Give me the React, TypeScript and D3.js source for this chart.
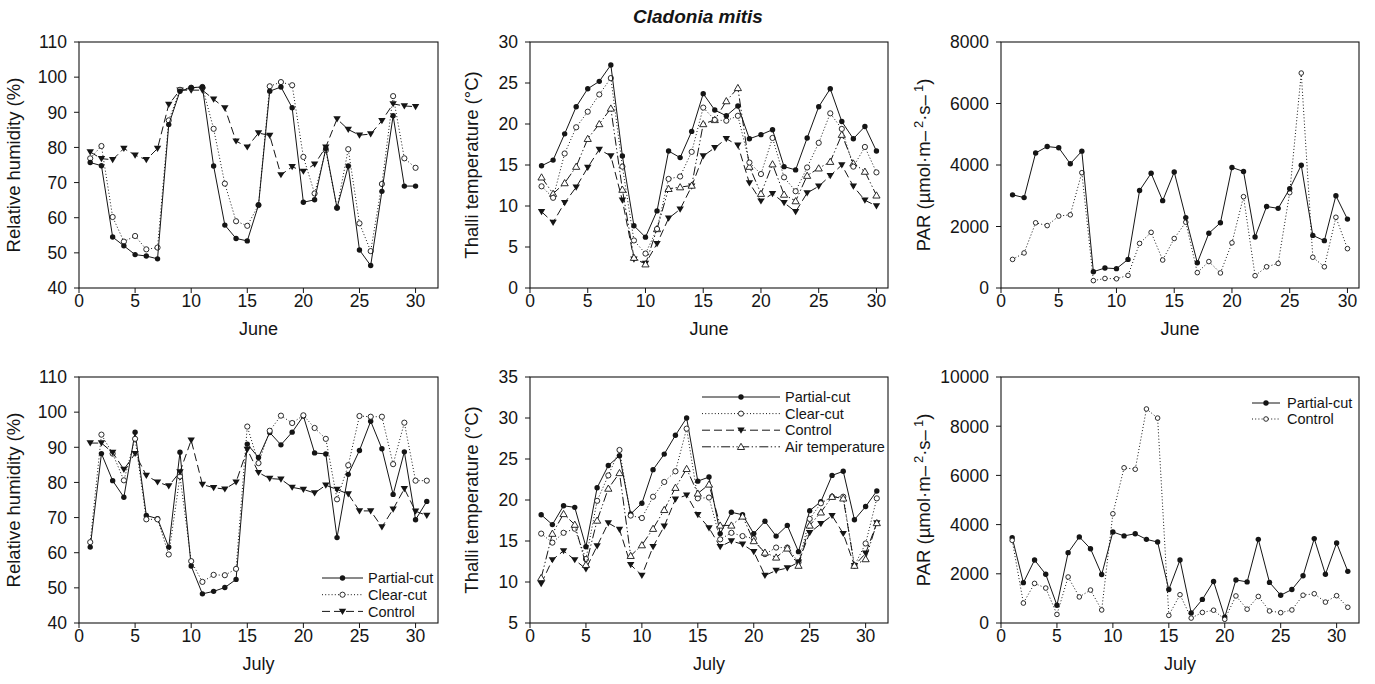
import React from 'react';
import * as d3 from 'd3';

// ---------- data ----------
const juneDays = Array.from({ length: 30 }, (_, i) => i + 1);
const julyDays = Array.from({ length: 31 }, (_, i) => i + 1);

const junRH_partial = [75.7, 74.8, 54.5, 52.0, 49.5, 49.1, 48.3, 86.5, 96.0, 97.0, 97.2, 74.7, 57.9, 54.1, 53.4, 63.6, 96.0, 97.2, 91.3, 64.4, 65.1, 79.7, 62.8, 74.7, 50.8, 46.4, 67.5, 89.0, 69.0, 69.0];
const junRH_clear = [76.9, 80.4, 60.2, 53.2, 54.8, 51.0, 51.5, 87.7, 96.4, 97.0, 97.2, 85.3, 69.7, 59.0, 57.7, 63.6, 97.4, 98.6, 97.7, 77.3, 66.9, 79.2, 62.8, 79.5, 58.4, 50.5, 69.6, 94.6, 76.9, 74.2];
const junRH_control = [78.7, 76.8, 76.5, 79.7, 77.8, 76.5, 79.7, 92.2, 96.3, 96.3, 96.3, 93.7, 91.2, 81.8, 80.1, 84.1, 83.4, 72.2, 74.5, 73.2, 75.2, 80.1, 88.1, 85.1, 83.5, 83.8, 87.6, 92.4, 91.8, 91.6];

const junT_partial = [14.9, 15.6, 18.8, 22.1, 24.3, 25.2, 27.2, 16.1, 7.6, 6.2, 9.4, 16.7, 15.9, 19.1, 23.7, 21.7, 21.0, 22.2, 18.2, 18.7, 19.3, 14.8, 14.4, 18.3, 22.1, 24.3, 20.3, 18.2, 19.7, 16.7];
const junT_clear = [12.4, 11.0, 16.4, 19.6, 21.5, 23.6, 25.6, 14.8, 5.8, 4.2, 7.2, 13.3, 13.6, 16.6, 22.0, 20.5, 20.4, 21.0, 15.3, 13.9, 18.3, 13.5, 11.8, 14.7, 17.7, 21.3, 19.4, 14.8, 17.2, 14.1];
const junT_control = [9.3, 8.0, 10.4, 12.3, 14.7, 16.9, 16.1, 10.7, 3.5, 3.0, 5.4, 8.5, 9.6, 12.4, 16.1, 17.1, 18.2, 17.4, 12.8, 10.6, 11.5, 10.4, 9.3, 11.6, 12.4, 13.7, 15.0, 12.4, 10.7, 10.0];
const junT_air = [13.5, 11.5, 12.8, 14.8, 18.2, 20.0, 21.9, 12.0, 3.7, 2.9, 7.2, 12.1, 12.3, 12.5, 20.0, 20.5, 22.8, 24.4, 14.8, 11.5, 15.1, 11.4, 10.6, 13.7, 14.6, 15.4, 18.7, 15.2, 14.2, 11.3];

const junPAR_partial = [3030, 2940, 4390, 4600, 4560, 4040, 4450, 530, 650, 630, 930, 3170, 3730, 2840, 3770, 2290, 820, 1780, 2120, 3920, 3790, 1660, 2650, 2590, 3230, 3990, 1710, 1540, 3000, 2240];
const junPAR_control = [930, 1140, 2120, 2030, 2340, 2380, 3750, 240, 310, 300, 410, 1450, 1810, 910, 1610, 2140, 500, 860, 490, 1470, 2970, 400, 690, 800, 3100, 6990, 1000, 690, 2300, 1280];

const julRH_partial = [61.6, 88.2, 80.5, 75.8, 94.3, 70.6, 69.7, 61.6, 88.6, 56.2, 48.3, 49.0, 50.1, 52.4, 90.9, 87.1, 94.2, 90.7, 94.3, 98.9, 88.4, 88.1, 64.3, 82.3, 89.1, 97.4, 89.6, 76.6, 88.7, 69.4, 74.6];
const julRH_clear = [63.0, 93.6, 88.2, 80.6, 92.4, 69.5, 69.5, 59.5, 81.7, 57.6, 51.7, 53.7, 53.6, 55.4, 95.9, 85.5, 94.7, 99.0, 96.9, 99.1, 95.5, 92.4, 75.2, 84.9, 98.9, 98.7, 98.7, 85.2, 97.0, 80.5, 80.5];
const julRH_control = [91.2, 91.2, 88.5, 83.7, 88.2, 82.0, 80.1, 79.0, 83.0, 92.0, 79.4, 78.5, 78.1, 80.1, 89.4, 82.8, 81.1, 80.9, 78.6, 78.0, 77.0, 79.2, 78.0, 76.7, 71.9, 71.9, 67.3, 72.4, 78.2, 71.8, 70.6];

const julT_partial = [18.2, 17.0, 19.3, 19.1, 14.3, 21.5, 24.2, 25.4, 18.3, 19.6, 23.7, 25.6, 27.9, 30.0, 22.3, 22.8, 15.9, 18.5, 18.2, 15.9, 17.4, 15.6, 16.9, 13.7, 18.7, 19.8, 23.0, 23.5, 17.6, 19.2, 21.1];
const julT_clear = [15.9, 14.8, 16.0, 16.5, 12.8, 19.9, 23.0, 26.1, 18.1, 17.8, 20.4, 22.2, 23.5, 28.7, 20.2, 20.3, 15.2, 16.0, 15.6, 15.3, 13.4, 14.2, 14.2, 12.4, 17.7, 19.6, 20.4, 20.4, 12.0, 14.7, 20.2];
const julT_control = [9.8, 12.7, 13.8, 12.7, 11.6, 14.4, 17.2, 16.4, 12.1, 10.8, 14.3, 16.8, 20.1, 20.6, 18.2, 16.6, 14.3, 15.0, 14.6, 13.7, 10.8, 11.4, 11.7, 12.4, 16.0, 17.1, 18.1, 15.9, 12.0, 13.5, 17.2];
const julT_air = [10.5, 15.9, 18.3, 17.0, 12.1, 17.5, 21.4, 23.3, 13.2, 14.5, 16.5, 18.8, 21.5, 23.8, 20.8, 21.9, 16.9, 16.9, 18.0, 15.0, 13.6, 13.0, 14.1, 12.0, 16.9, 18.5, 20.4, 20.2, 12.0, 12.8, 17.2];

const julPAR_partial = [3470, 1640, 2560, 1980, 720, 2860, 3500, 3020, 1970, 3700, 3540, 3630, 3400, 3290, 1360, 2560, 410, 960, 1690, 240, 1750, 1670, 3400, 1650, 1130, 1360, 1920, 3430, 1980, 3250, 2100];
const julPAR_control = [3360, 810, 1610, 1420, 350, 1870, 1060, 1340, 530, 4440, 6310, 6250, 8700, 8330, 310, 1150, 200, 430, 520, 150, 1100, 560, 1080, 490, 420, 530, 1130, 1190, 850, 1110, 640];

const rhTicks = [40, 50, 60, 70, 80, 90, 100, 110];
const tJuneTicks = [0, 5, 10, 15, 20, 25, 30];
const tJulyTicks = [5, 10, 15, 20, 25, 30, 35];
const parJuneTicks = [0, 2000, 4000, 6000, 8000];
const parJulyTicks = [0, 2000, 4000, 6000, 8000, 10000];
const dayTicks = [0, 5, 10, 15, 20, 25, 30];

// ---------- styles ----------
const INK = '#151515';
const FONT = '"Liberation Sans", Arial, Helvetica, sans-serif';

type MarkerKind = 'fc' | 'oc' | 'ocs' | 'td' | 'tu';
const STYLE: Record<string, { dash?: string; marker: MarkerKind }> = {
  partial: { marker: 'fc' },
  clear: { dash: '1,2.2', marker: 'oc' },
  control: { dash: '8,4', marker: 'td' },
  air: { dash: '9,2.5,1.3,2.5,1.3,2.5', marker: 'tu' },
  parControl: { dash: '1,2.2', marker: 'ocs' },
};

function Marker({ kind, cx, cy }: { kind: MarkerKind; cx: number; cy: number }) {
  switch (kind) {
    case 'fc':
      return <circle cx={cx} cy={cy} r={2.7} fill={INK} />;
    case 'oc':
      return <circle cx={cx} cy={cy} r={2.6} fill="#fff" stroke={INK} strokeWidth={0.9} />;
    case 'ocs':
      return <circle cx={cx} cy={cy} r={2.3} fill="#fff" stroke={INK} strokeWidth={0.9} />;
    case 'td':
      return <path d={`M${cx - 3.7},${cy - 2.7}L${cx + 3.7},${cy - 2.7}L${cx},${cy + 3.5}Z`} fill={INK} />;
    case 'tu':
      return <path d={`M${cx},${cy - 3.5}L${cx + 3.6},${cy + 2.7}L${cx - 3.6},${cy + 2.7}Z`} fill="#fff" stroke={INK} strokeWidth={0.9} />;
  }
  return null;
}

type Series = { name: string; style: string; days: number[]; values: number[] };
type Legend = { lineX0: number; lineX1: number; textX: number; y0: number; dy: number };
type PanelDef = {
  left: number; right: number; top: number; bottom: number;
  xDomain: [number, number]; yDomain: [number, number]; yTicks: number[];
  yLabel: React.ReactNode; yLabelX: number; xLabel: string;
  series: Series[]; legend?: Legend;
};

function Panel({ p }: { p: PanelDef }) {
  const x = d3.scaleLinear().domain(p.xDomain).range([p.left, p.right]);
  const y = d3.scaleLinear().domain(p.yDomain).range([p.bottom, p.top]);
  const line = d3.line<[number, number]>().x((d) => x(d[0])).y((d) => y(d[1]));
  const cy = (p.top + p.bottom) / 2;
  const cx = (p.left + p.right) / 2;
  return (
    <g>
      {p.series.map((s) => {
        const st = STYLE[s.style];
        const pts = s.days.map((d, i) => [d, s.values[i]] as [number, number]);
        return (
          <g key={s.name + s.style}>
            <path d={line(pts) || ''} fill="none" stroke={INK} strokeWidth={1} strokeDasharray={st.dash} />
            {pts.map((pt, i) => (
              <Marker key={i} kind={st.marker} cx={x(pt[0])} cy={y(pt[1])} />
            ))}
          </g>
        );
      })}
      <rect x={p.left} y={p.top} width={p.right - p.left} height={p.bottom - p.top} fill="none" stroke={INK} strokeWidth={1.1} />
      {p.yTicks.map((t) => (
        <g key={'y' + t}>
          <line x1={p.left - 5} x2={p.left} y1={y(t)} y2={y(t)} stroke={INK} strokeWidth={1} />
          <text x={p.left - 12} y={y(t)} dy="0.36em" textAnchor="end" fontSize={17.5} fill={INK}>{t}</text>
        </g>
      ))}
      {dayTicks.map((t) => (
        <g key={'x' + t}>
          <line x1={x(t)} x2={x(t)} y1={p.bottom} y2={p.bottom + 5} stroke={INK} strokeWidth={1} />
          <text x={x(t)} y={p.bottom + 19} textAnchor="middle" fontSize={17.5} fill={INK}>{t}</text>
        </g>
      ))}
      <text x={cx} y={p.bottom + 47} textAnchor="middle" fontSize={18} fill={INK}>{p.xLabel}</text>
      <text transform={`translate(${p.yLabelX},${cy}) rotate(-90)`} textAnchor="middle" fontSize={18.5} fill={INK}>{p.yLabel}</text>
      {p.legend &&
        p.series.map((s, i) => {
          const lg = p.legend!;
          const st = STYLE[s.style];
          const ly = lg.y0 + i * lg.dy;
          return (
            <g key={'lg' + s.name}>
              <line x1={lg.lineX0} x2={lg.lineX1} y1={ly} y2={ly} stroke={INK} strokeWidth={1} strokeDasharray={st.dash} />
              <Marker kind={st.marker} cx={(lg.lineX0 + lg.lineX1) / 2} cy={ly} />
              <text x={lg.textX} y={ly} dy="0.36em" fontSize={14.5} fill={INK}>{s.name}</text>
            </g>
          );
        })}
    </g>
  );
}

const parLabel = (
  <>
    PAR (µmol·m–<tspan dx={3} dy={-7} fontSize={13}>2</tspan>
    <tspan dy={7}>·s–</tspan>
    <tspan dx={3} dy={-7} fontSize={13}>1</tspan>
    <tspan dy={7}>)</tspan>
  </>
);

const COLS = [
  { left: 79, right: 438 },
  { left: 530, right: 888 },
  { left: 1001, right: 1359 },
];
const ROWS = [
  { top: 42, bottom: 288 },
  { top: 377, bottom: 623 },
];

const panels: PanelDef[] = [
  {
    ...COLS[0], ...ROWS[0], xDomain: [0, 32], yDomain: [40, 110], yTicks: rhTicks,
    yLabel: 'Relative humidity (%)', yLabelX: 20, xLabel: 'June',
    series: [
      { name: 'Control', style: 'control', days: juneDays, values: junRH_control },
      { name: 'Clear-cut', style: 'clear', days: juneDays, values: junRH_clear },
      { name: 'Partial-cut', style: 'partial', days: juneDays, values: junRH_partial },
    ],
  },
  {
    ...COLS[1], ...ROWS[0], xDomain: [0, 31], yDomain: [0, 30], yTicks: tJuneTicks,
    yLabel: 'Thalli temperature (°C)', yLabelX: 478, xLabel: 'June',
    series: [
      { name: 'Control', style: 'control', days: juneDays, values: junT_control },
      { name: 'Air temperature', style: 'air', days: juneDays, values: junT_air },
      { name: 'Clear-cut', style: 'clear', days: juneDays, values: junT_clear },
      { name: 'Partial-cut', style: 'partial', days: juneDays, values: junT_partial },
    ],
  },
  {
    ...COLS[2], ...ROWS[0], xDomain: [0, 31], yDomain: [0, 8000], yTicks: parJuneTicks,
    yLabel: parLabel, yLabelX: 930, xLabel: 'June',
    series: [
      { name: 'Control', style: 'parControl', days: juneDays, values: junPAR_control },
      { name: 'Partial-cut', style: 'partial', days: juneDays, values: junPAR_partial },
    ],
  },
  {
    ...COLS[0], ...ROWS[1], xDomain: [0, 32], yDomain: [40, 110], yTicks: rhTicks,
    yLabel: 'Relative humidity (%)', yLabelX: 20, xLabel: 'July',
    series: [
      { name: 'Partial-cut', style: 'partial', days: julyDays, values: julRH_partial },
      { name: 'Clear-cut', style: 'clear', days: julyDays, values: julRH_clear },
      { name: 'Control', style: 'control', days: julyDays, values: julRH_control },
    ],
    legend: { lineX0: 322, lineX1: 363, textX: 368, y0: 578, dy: 16.7 },
  },
  {
    ...COLS[1], ...ROWS[1], xDomain: [0, 32], yDomain: [5, 35], yTicks: tJulyTicks,
    yLabel: 'Thalli temperature (°C)', yLabelX: 478, xLabel: 'July',
    series: [
      { name: 'Partial-cut', style: 'partial', days: julyDays, values: julT_partial },
      { name: 'Clear-cut', style: 'clear', days: julyDays, values: julT_clear },
      { name: 'Control', style: 'control', days: julyDays, values: julT_control },
      { name: 'Air temperature', style: 'air', days: julyDays, values: julT_air },
    ],
    legend: { lineX0: 702, lineX1: 780, textX: 785, y0: 397, dy: 16.6 },
  },
  {
    ...COLS[2], ...ROWS[1], xDomain: [0, 32], yDomain: [0, 10000], yTicks: parJulyTicks,
    yLabel: parLabel, yLabelX: 930, xLabel: 'July',
    series: [
      { name: 'Partial-cut', style: 'partial', days: julyDays, values: julPAR_partial },
      { name: 'Control', style: 'parControl', days: julyDays, values: julPAR_control },
    ],
    legend: { lineX0: 1252, lineX1: 1280, textX: 1287, y0: 403, dy: 16 },
  },
];

export default function App() {
  return (
    <svg
      width={1375}
      height={684}
      viewBox="0 0 1375 684"
      style={{ position: 'absolute', left: 0, top: 0, background: '#fff', fontFamily: FONT }}
    >
      <rect x={0} y={0} width={1375} height={684} fill="#fff" />
      <text x={633} y={23} textAnchor="start" fontSize={19} fontWeight="bold" fontStyle="italic" fill={INK}>
        Cladonia mitis
      </text>
      {panels.map((p, i) => (
        <Panel key={i} p={p} />
      ))}
    </svg>
  );
}
